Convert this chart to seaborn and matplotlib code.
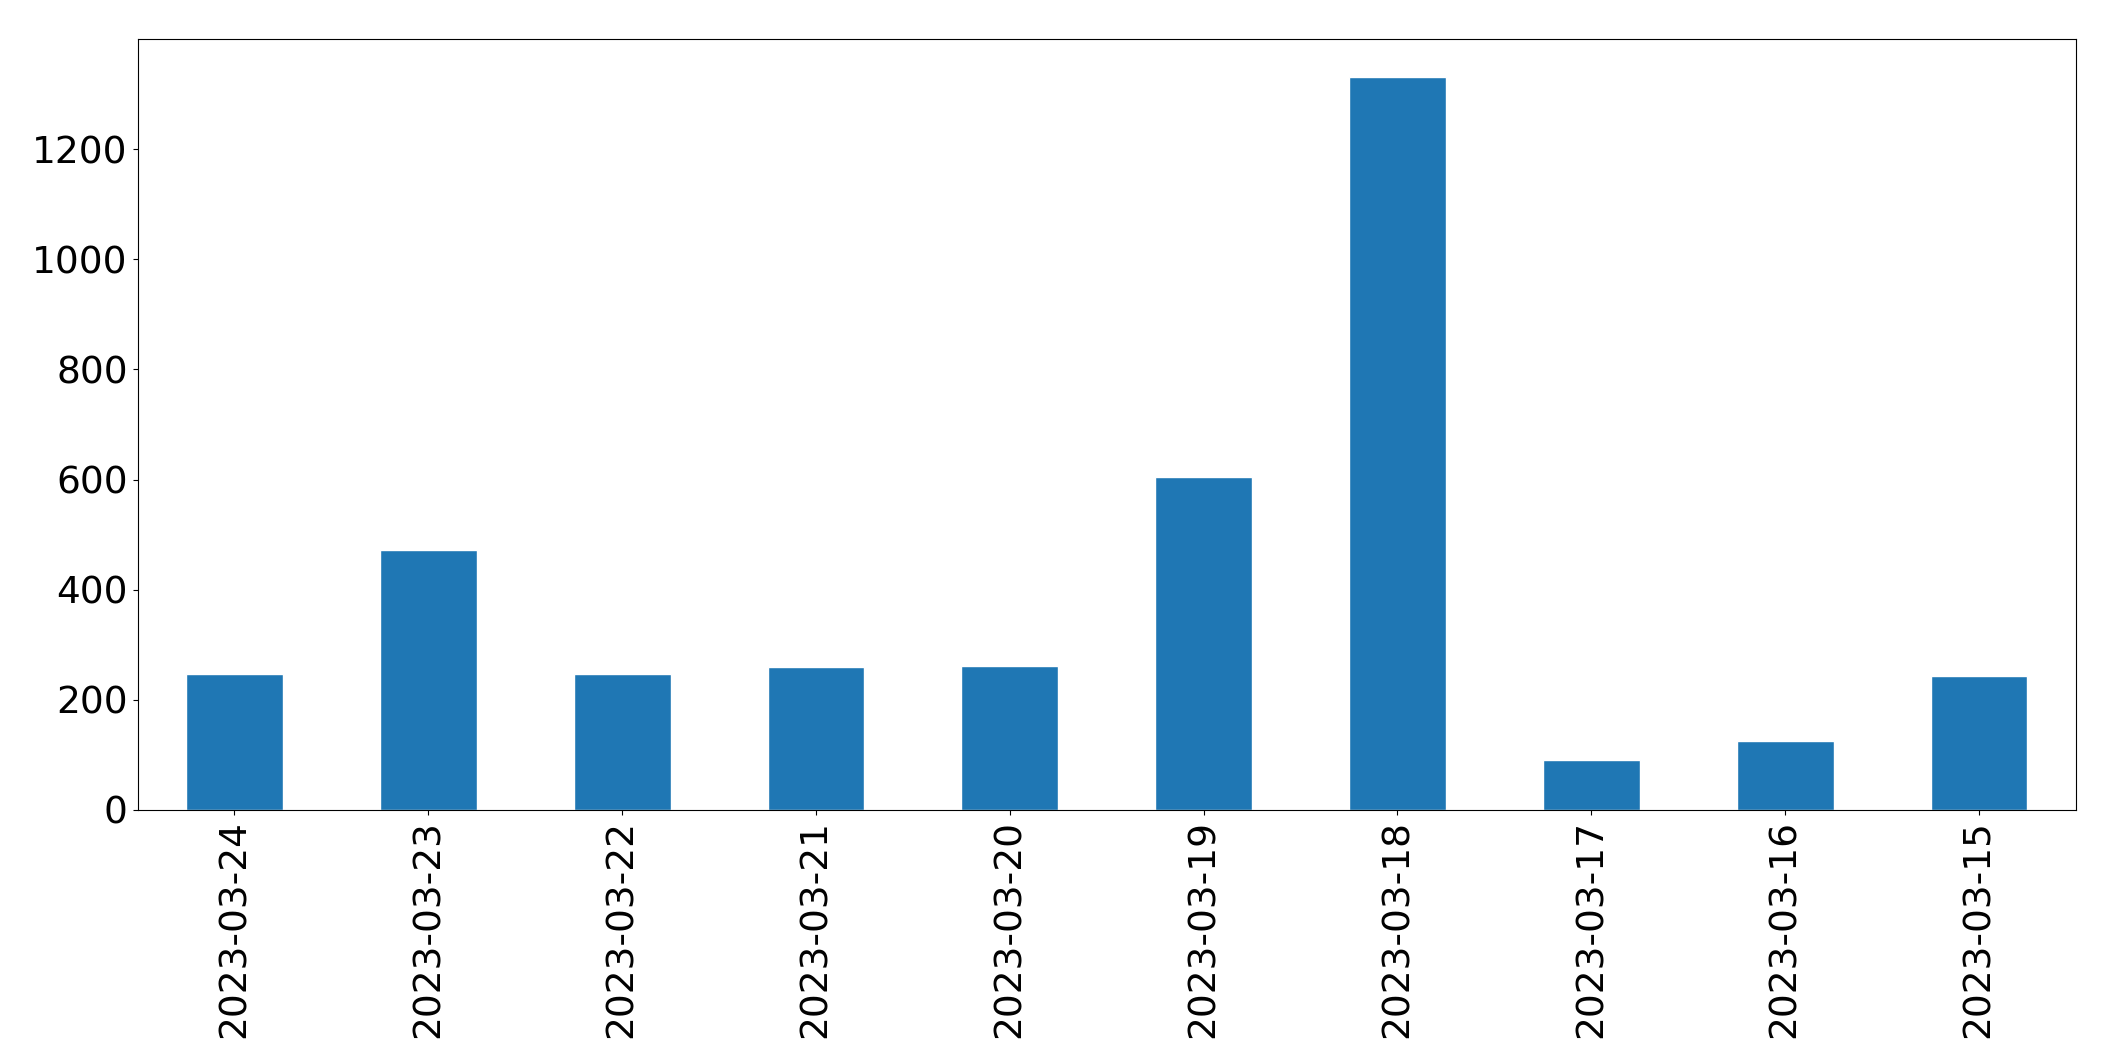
import matplotlib
matplotlib.use("Agg")
import matplotlib.pyplot as plt
import seaborn as sns
import pandas as pd

dates = ["2023-03-24","2023-03-23","2023-03-22","2023-03-21","2023-03-20",
         "2023-03-19","2023-03-18","2023-03-17","2023-03-16","2023-03-15"]
counts = [247, 473, 247, 259, 261, 605, 1332, 91, 125, 243]

sns.set_style("ticks")
plt.rcParams['font.family'] = ['DejaVu Sans']
df = pd.DataFrame({"date": dates, "count": counts})
fig = plt.figure(figsize=(21.15, 10.61), dpi=100)
ax = fig.add_axes([102/1568, 1-600/786, (1539-102)/1568, (600-29)/786])
sns.barplot(data=df, x="date", y="count", color="#1f77b4", saturation=1, width=0.5, ax=ax)
ax.set_xlabel("")
ax.set_ylabel("")
ax.tick_params(axis="both", labelsize=27, colors="black")
ax.tick_params(axis="x", rotation=90)
ax.set_ylim(0, 1400)
ax.set_yticks([0, 200, 400, 600, 800, 1000, 1200])
ax.set_xlim(-0.5, 9.5)
for s in ax.spines.values():
    s.set_visible(True)
    s.set_color("black")
fig.savefig("out.png", dpi=100)
